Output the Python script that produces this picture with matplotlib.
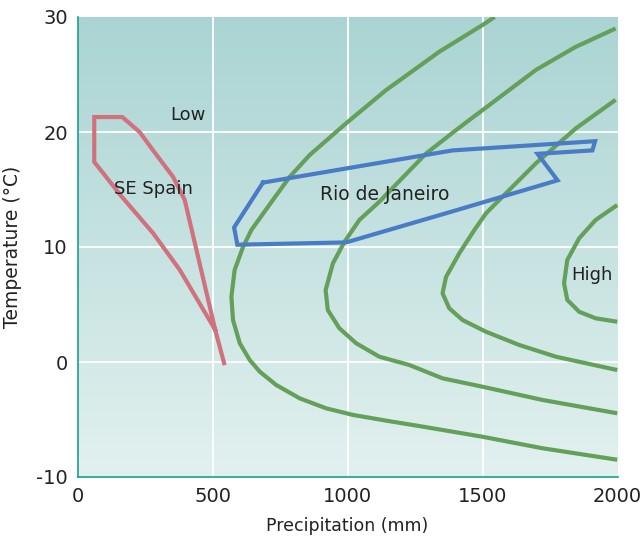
import numpy as np
import matplotlib.pyplot as plt

# SE Spain climate envelope (precip mm, temp C)
spain_p = [543, 510, 397, 354, 280, 230, 166, 62, 62, 163, 280, 379, 510]
spain_t = [-0.1, 2.8, 14.1, 16.1, 18.4, 20.0, 21.3, 21.3, 17.4, 14.4, 11.2, 8.0, 2.8]

# Rio de Janeiro climate envelope
rio_p = [687, 580, 592, 995, 1389, 1778, 1704, 1907, 1917, 1389, 687]
rio_t = [15.6, 11.7, 10.2, 10.4, 13.1, 15.8, 18.1, 18.4, 19.2, 18.4, 15.6]

# productivity contours (Low -> High)
c1_p = [1545, 1500, 1340, 1229, 1143, 995, 860, 786, 724, 644, 613, 582, 570, 576, 601, 638,
        675, 736, 823, 921, 1020, 1143, 1266, 1500, 1722, 1999]
c1_t = [30.0, 29.3, 26.98, 25.1, 23.65, 20.76, 18.0, 16.1, 14.1, 11.48, 10.0, 8.0, 5.68, 3.65, 1.63, 0.17,
        -0.84, -2.0, -3.16, -4.03, -4.6, -5.1, -5.57, -6.5, -7.5, -8.5]
c2_p = [1993, 1845, 1698, 1500, 1451, 1393, 1291, 1118, 1044, 989, 946, 919, 927, 970, 1032,
        1118, 1229, 1352, 1500, 1722, 1999]
c2_t = [29.0, 27.4, 25.4, 21.9, 21.04, 20.0, 18.13, 13.94, 12.35, 10.46, 8.58, 6.26, 4.52, 2.93, 1.63,
        0.46, -0.26, -1.42, -2.15, -3.3, -4.46]
c3_p = [1993, 1845, 1698, 1574, 1513, 1470, 1414, 1365, 1352, 1377, 1426, 1513, 1636, 1772, 1999]
c3_t = [22.8, 20.3, 17.28, 14.37, 12.93, 11.48, 9.45, 7.4, 5.97, 4.67, 3.65, 2.63, 1.48, 0.46, -0.7]
c4_p = [1999, 1919, 1858, 1814, 1802, 1814, 1858, 1919, 1999]
c4_t = [13.65, 12.35, 10.76, 8.87, 6.84, 5.4, 4.37, 3.8, 3.5]

plt.rcParams['font.family'] = ['DejaVu Sans']
plt.rcParams['axes.unicode_minus'] = False

fig = plt.figure(figsize=(6.44, 5.37), dpi=100)
ax = fig.add_axes([77.5 / 644, 60 / 537, 540 / 644, 460 / 537])

# background gradient
top = np.array([170, 212, 211]) / 255
bot = np.array([226, 241, 239]) / 255
g = np.linspace(0, 1, 256)[:, None]
grad = top * (1 - g[..., None]) + bot * g[..., None]
ax.imshow(grad, extent=[0, 2000, -10, 30], aspect='auto', zorder=0)

for xv in [500, 1000, 1500]:
    ax.axvline(xv, color='white', lw=1.3, zorder=1)
for yv in [0, 10, 20]:
    ax.axhline(yv, color='white', lw=1.3, zorder=1)

green = '#64a05a'
for p, t in [(c1_p, c1_t), (c2_p, c2_t), (c3_p, c3_t), (c4_p, c4_t)]:
    ax.plot(p, t, color=green, lw=3, zorder=2, solid_capstyle='butt', solid_joinstyle='round')

ax.plot(spain_p, spain_t, color='#d0727e', lw=3, zorder=3, solid_joinstyle='miter')
ax.plot(rio_p, rio_t, color='#4a7cc6', lw=3, zorder=3, solid_joinstyle='miter')

tk = dict(fontsize=13, color='#222222', zorder=4)
ax.text(410, 21.5, 'Low', ha='center', va='center', **tk)
ax.text(280, 15.0, 'SE Spain', ha='center', va='center', **tk)
ax.text(1138, 14.6, 'Rio de Janeiro', ha='center', va='center', fontsize=13.5, color='#222222', zorder=4)
ax.text(1907, 7.6, 'High', ha='center', va='center', **tk)

ax.set_xlim(0, 2000)
ax.set_ylim(-10, 30)
ax.set_xticks([0, 500, 1000, 1500, 2000])
ax.set_yticks([-10, 0, 10, 20, 30])
ax.tick_params(length=0, labelsize=14, pad=7, colors='#222222')
for s in ['top', 'right']:
    ax.spines[s].set_visible(False)
for s in ['left', 'bottom']:
    ax.spines[s].set_color('#1a9e96')
    ax.spines[s].set_linewidth(1.2)
ax.set_xlabel('Precipitation (mm)', fontsize=12.5, color='#222222', labelpad=8)
ax.set_ylabel('Temperature (°C)', fontsize=13.5, color='#222222', labelpad=10)

fig.savefig('out.png', dpi=100)
